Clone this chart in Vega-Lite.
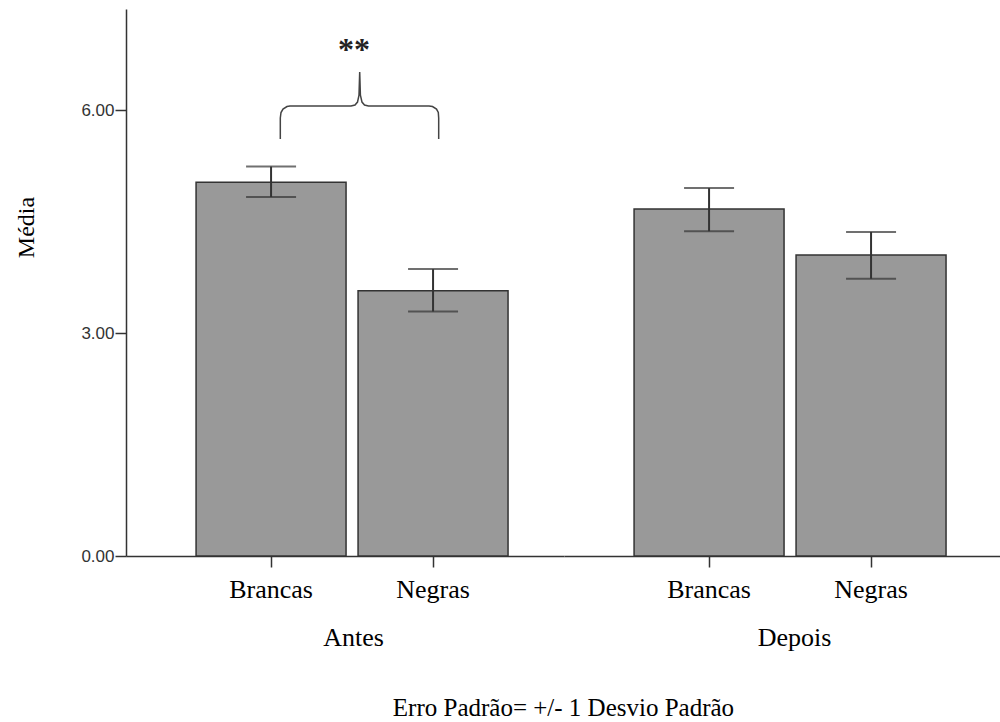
{
  "$schema": "https://vega.github.io/schema/vega-lite/v6.json",
  "background": "white",
  "padding": {"left": 14, "top": 9, "right": 0, "bottom": 0},
  "data": {
    "values": [
      {"tipo": "barra", "periodo": "Antes", "raca": "Brancas", "media": 5.03, "inf": 4.83, "sup": 5.24},
      {"tipo": "barra", "periodo": "Antes", "raca": "Negras", "media": 3.57, "inf": 3.29, "sup": 3.86},
      {"tipo": "barra", "periodo": "Depois", "raca": "Brancas", "media": 4.67, "inf": 4.37, "sup": 4.95},
      {"tipo": "barra", "periodo": "Depois", "raca": "Negras", "media": 4.05, "inf": 3.73, "sup": 4.36},
      {"tipo": "chave", "periodo": "Antes", "ordem": 1, "bx": 0.9525, "yb": 5.61},
      {"tipo": "chave", "periodo": "Antes", "ordem": 2, "bx": 0.9525, "yb": 5.893},
      {"tipo": "chave", "periodo": "Antes", "ordem": 3, "bx": 0.9568, "yb": 5.967},
      {"tipo": "chave", "periodo": "Antes", "ordem": 4, "bx": 0.9691, "yb": 6.014},
      {"tipo": "chave", "periodo": "Antes", "ordem": 5, "bx": 0.9938, "yb": 6.047},
      {"tipo": "chave", "periodo": "Antes", "ordem": 6, "bx": 1.0123, "yb": 6.054},
      {"tipo": "chave", "periodo": "Antes", "ordem": 7, "bx": 1.3889, "yb": 6.054},
      {"tipo": "chave", "periodo": "Antes", "ordem": 8, "bx": 1.4136, "yb": 6.068},
      {"tipo": "chave", "periodo": "Antes", "ordem": 9, "bx": 1.429, "yb": 6.108},
      {"tipo": "chave", "periodo": "Antes", "ordem": 10, "bx": 1.4383, "yb": 6.202},
      {"tipo": "chave", "periodo": "Antes", "ordem": 11, "bx": 1.4426, "yb": 6.511},
      {"tipo": "chave", "periodo": "Antes", "ordem": 12, "bx": 1.4469, "yb": 6.202},
      {"tipo": "chave", "periodo": "Antes", "ordem": 13, "bx": 1.4568, "yb": 6.108},
      {"tipo": "chave", "periodo": "Antes", "ordem": 14, "bx": 1.4722, "yb": 6.068},
      {"tipo": "chave", "periodo": "Antes", "ordem": 15, "bx": 1.4969, "yb": 6.054},
      {"tipo": "chave", "periodo": "Antes", "ordem": 16, "bx": 1.8704, "yb": 6.054},
      {"tipo": "chave", "periodo": "Antes", "ordem": 17, "bx": 1.892, "yb": 6.047},
      {"tipo": "chave", "periodo": "Antes", "ordem": 18, "bx": 1.9167, "yb": 6.014},
      {"tipo": "chave", "periodo": "Antes", "ordem": 19, "bx": 1.9278, "yb": 5.967},
      {"tipo": "chave", "periodo": "Antes", "ordem": 20, "bx": 1.9302, "yb": 5.893},
      {"tipo": "chave", "periodo": "Antes", "ordem": 21, "bx": 1.9302, "yb": 5.61},
      {"tipo": "nota", "periodo": "Antes", "bx": 1.4074, "yt": 6.673, "texto": "**"}
    ]
  },
  "title": {
    "text": "Erro Padrão= +/- 1 Desvio Padrão",
    "orient": "bottom",
    "anchor": "middle",
    "font": "Liberation Serif",
    "fontSize": 25,
    "fontWeight": "normal",
    "color": "black",
    "offset": 46,
    "dx": 55
  },
  "spacing": 0,
  "hconcat": [
    {
      "width": 438,
      "height": 547,
      "transform": [{"filter": "datum.periodo == 'Antes'"}],
      "resolve": {"scale": {"x": "independent"}, "axis": {"x": "independent"}},
      "layer": [
        {
          "transform": [{"filter": "datum.tipo == 'barra'"}],
          "mark": {"type": "bar", "fill": "#999999", "stroke": "#333333", "strokeWidth": 1.5},
          "encoding": {
            "x": {"field": "raca", "type": "nominal", "sort": ["Brancas", "Negras"], "title": "Antes",
                  "scale": {"paddingInner": 0.0741, "paddingOuter": 0.389, "align": 0.556},
                  "axis": {"labelAngle": 0, "titleX": 227}},
            "y": {"field": "media", "type": "quantitative", "title": "Média",
                  "scale": {"domain": [0, 7.36], "nice": false},
                  "axis": {"values": [0, 3, 6], "format": ".2f"}}
          }
        },
        {
          "transform": [{"filter": "datum.tipo == 'barra'"}],
          "mark": {"type": "rule", "color": "#333333", "strokeWidth": 2},
          "encoding": {
            "x": {"field": "raca", "type": "nominal", "sort": ["Brancas", "Negras"],
                  "scale": {"paddingInner": 0.0741, "paddingOuter": 0.389, "align": 0.556}, "axis": null},
            "y": {"field": "inf", "type": "quantitative", "title": "Média", "axis": {"values": [0, 3, 6], "format": ".2f"}},
            "y2": {"field": "sup"}
          }
        },
        {
          "transform": [{"filter": "datum.tipo == 'barra'"}],
          "mark": {"type": "tick", "color": "#333333", "thickness": 2, "size": 50},
          "encoding": {
            "x": {"field": "raca", "type": "nominal", "sort": ["Brancas", "Negras"],
                  "scale": {"paddingInner": 0.0741, "paddingOuter": 0.389, "align": 0.556}, "axis": null},
            "y": {"field": "inf", "type": "quantitative", "title": "Média", "axis": {"values": [0, 3, 6], "format": ".2f"}}
          }
        },
        {
          "transform": [{"filter": "datum.tipo == 'barra'"}],
          "mark": {"type": "tick", "color": "#333333", "thickness": 2, "size": 50},
          "encoding": {
            "x": {"field": "raca", "type": "nominal", "sort": ["Brancas", "Negras"],
                  "scale": {"paddingInner": 0.0741, "paddingOuter": 0.389, "align": 0.556}, "axis": null},
            "y": {"field": "sup", "type": "quantitative", "title": "Média", "axis": {"values": [0, 3, 6], "format": ".2f"}}
          }
        },
        {
          "transform": [{"filter": "datum.tipo == 'chave'"}],
          "mark": {"type": "line", "color": "#444444", "strokeWidth": 1.5, "interpolate": "linear"},
          "encoding": {
            "x": {"field": "bx", "type": "quantitative", "scale": {"domain": [0, 2.7037], "nice": false, "zero": false}, "axis": null},
            "y": {"field": "yb", "type": "quantitative", "title": "Média", "axis": {"values": [0, 3, 6], "format": ".2f"}},
            "order": {"field": "ordem", "type": "quantitative"}
          }
        },
        {
          "transform": [{"filter": "datum.tipo == 'nota'"}],
          "mark": {"type": "text", "font": "Liberation Serif", "fontSize": 32, "fontWeight": "bold", "align": "center", "baseline": "alphabetic", "color": "#222222"},
          "encoding": {
            "x": {"field": "bx", "type": "quantitative", "scale": {"domain": [0, 2.7037], "nice": false, "zero": false}, "axis": null},
            "y": {"field": "yt", "type": "quantitative", "title": "Média", "axis": {"values": [0, 3, 6], "format": ".2f"}},
            "text": {"field": "texto"}
          }
        }
      ]
    },
    {
      "width": 438,
      "height": 547,
      "transform": [{"filter": "datum.periodo == 'Depois' && datum.tipo == 'barra'"}],
      "encoding": {
        "x": {"field": "raca", "type": "nominal", "sort": ["Brancas", "Negras"], "title": "Depois",
              "scale": {"paddingInner": 0.0741, "paddingOuter": 0.389, "align": 0.556},
              "axis": {"labelAngle": 0, "titleX": 230}}
      },
      "layer": [
        {
          "mark": {"type": "bar", "fill": "#999999", "stroke": "#333333", "strokeWidth": 1.5},
          "encoding": {
            "y": {"field": "media", "type": "quantitative", "scale": {"domain": [0, 7.36], "nice": false}, "axis": null}
          }
        },
        {
          "mark": {"type": "rule", "color": "#333333", "strokeWidth": 2},
          "encoding": {
            "y": {"field": "inf", "type": "quantitative", "axis": null},
            "y2": {"field": "sup"}
          }
        },
        {
          "mark": {"type": "tick", "color": "#333333", "thickness": 2, "size": 50},
          "encoding": {
            "y": {"field": "inf", "type": "quantitative", "axis": null}
          }
        },
        {
          "mark": {"type": "tick", "color": "#333333", "thickness": 2, "size": 50},
          "encoding": {
            "y": {"field": "sup", "type": "quantitative", "axis": null}
          }
        }
      ]
    }
  ],
  "config": {
    "view": {"stroke": null},
    "axis": {"grid": false},
    "axisX": {
      "labelFont": "Liberation Serif",
      "labelFontSize": 26,
      "labelColor": "black",
      "labelPadding": 9,
      "tickSize": 11,
      "tickColor": "#333333",
      "tickWidth": 1.5,
      "domainColor": "#333333",
      "domainWidth": 1.5,
      "titleFont": "Liberation Serif",
      "titleFontSize": 26,
      "titleFontWeight": "normal",
      "titleColor": "black",
      "titlePadding": 22
    },
    "axisY": {
      "labelFont": "Liberation Sans",
      "labelFontSize": 17,
      "labelColor": "#333333",
      "labelPadding": 1,
      "tickSize": 11,
      "tickColor": "#333333",
      "tickWidth": 1.5,
      "domainColor": "#333333",
      "domainWidth": 1.5,
      "titleFont": "Liberation Serif",
      "titleFontSize": 24,
      "titleFontWeight": "normal",
      "titleColor": "black",
      "titlePadding": 42,
      "titleY": 218
    }
  }
}
